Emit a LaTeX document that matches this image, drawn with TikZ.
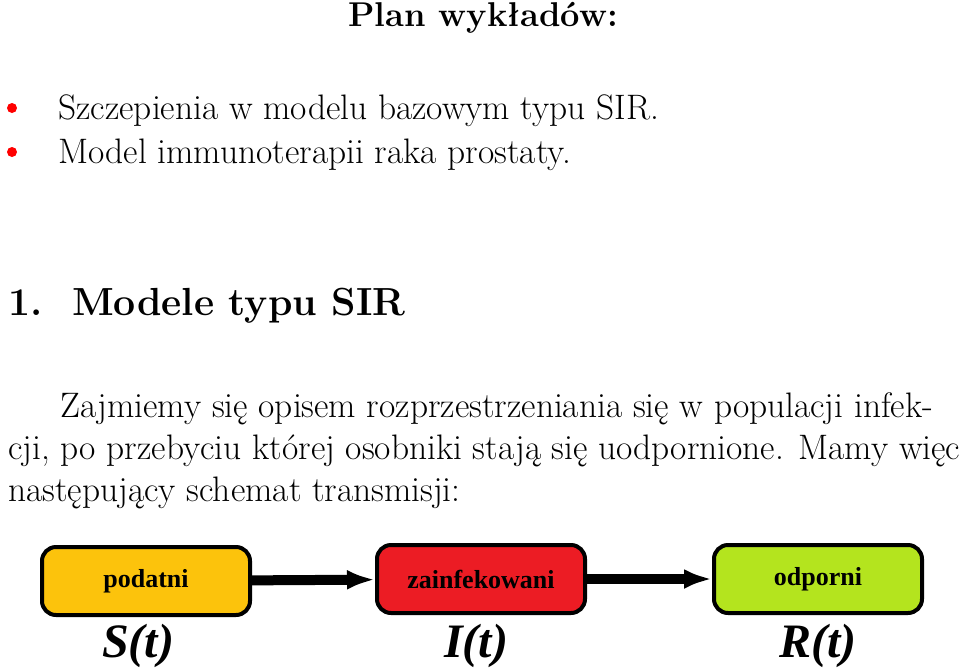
\documentclass[tikz,border=0pt]{standalone}
\usepackage{fontspec}
\newfontfamily\tnr{Liberation Serif}
\usetikzlibrary{arrows.meta}
\begin{document}
\begin{tikzpicture}[x=0.5pt,y=-0.5pt,
  txt/.style={anchor=base west,inner sep=0pt,font=\fontsize{17.7}{21}\selectfont},
  box/.style={draw=black,line width=2pt,rounded corners=7pt,minimum width=104pt,minimum height=34pt,inner sep=0pt,font=\tnr\bfseries\fontsize{13}{15}\selectfont},
  conn/.style={line width=5pt,-{Latex[length=14pt,width=10pt]}},
  lab/.style={font=\tnr\bfseries\itshape\fontsize{24}{28}\selectfont,inner sep=0pt}]
\useasboundingbox (0,0) rectangle (960,671);
\node[anchor=base,inner sep=0pt,font=\bfseries\fontsize{17.2}{20}\selectfont] (t) at (483,26) {Plan wykładów:};
\fill[red] (12,108) circle (5);
\fill[red] (12,152) circle (5);
\node[txt] (b1) at (58,119) {Szczepienia w modelu bazowym typu SIR.};
\node[txt] (b2) at (58,163) {Model immunoterapii raka prostaty.};
\node[anchor=base west,inner sep=0pt,font=\bfseries\fontsize{19.6}{24}\selectfont] (h) at (8,315) {1.\ \ Modele typu SIR};
\node[txt] (p1) at (60,417) {Zajmiemy się opisem rozprzestrzeniania się w populacji infek-};
\node[txt] (p2) at (8,459) {cji, po przebyciu której osobniki stają się uodpornione. Mamy więc};
\node[txt] (p3) at (8,501) {następujący schemat transmisji:};
\node[box,fill={rgb,255:red,252;green,195;blue,12}] (s) at (146,581) {podatni};
\node[box,fill={rgb,255:red,236;green,28;blue,36}] (i) at (481,579) {zainfekowani};
\node[box,fill={rgb,255:red,180;green,228;blue,30}] (r) at (818,579) {odporni};
\draw[conn] (s) -- (i);
\draw[conn] (i) -- (r);
\node[lab] (ls) at (138,646) {S(t)};
\node[lab] (li) at (476,646) {I(t)};
\node[lab] (lr) at (818,646) {R(t)};
\end{tikzpicture}
\end{document}
